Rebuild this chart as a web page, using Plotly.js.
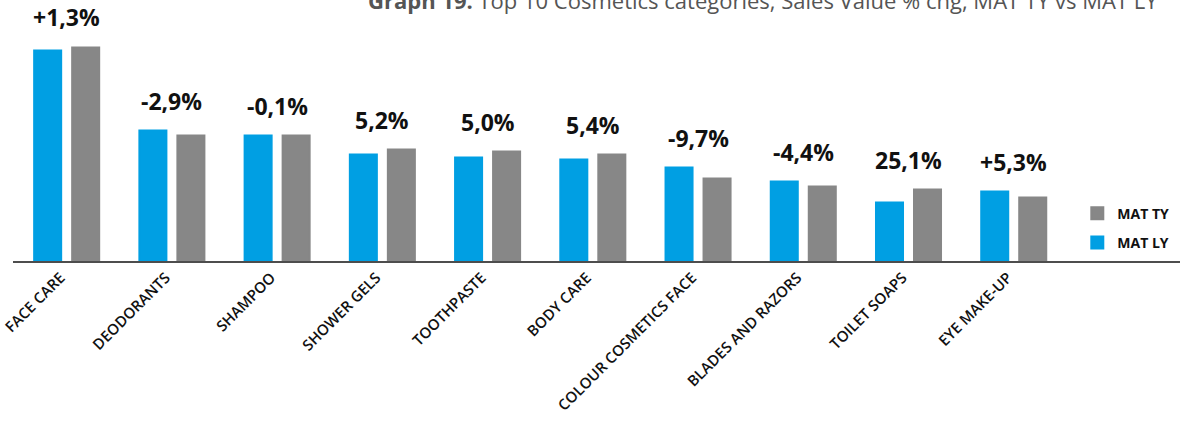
<!DOCTYPE html>
<html>
<head>
<meta charset="utf-8">
<script src="https://cdn.plot.ly/plotly-3.0.1.min.js"></script>
<style>html,body{margin:0;padding:0;background:#fff;}#chart{width:1180px;height:425px;}</style>
</head>
<body>
<div id="chart"></div>
<script>
const categories = ['FACE CARE','DEODORANTS','SHAMPOO','SHOWER GELS','TOOTHPASTE','BODY CARE','COLOUR COSMETICS FACE','BLADES AND RAZORS','TOILET SOAPS','EYE MAKE-UP'];
const matLY = [210.5,130.5,125.5,106.5,103.5,101.5,93.5,79.5,58.5,69.5];
const matTY = [213.5,125.5,125.5,111.5,109.5,106.5,82.5,74.5,71.5,63.5];
const changeLabels = ['+1,3%','-2,9%','-0,1%','5,2%','5,0%','5,4%','-9,7%','-4,4%','25,1%','+5,3%'];
const titleBold = 'Graph 19.';
const titleRest = 'Top 10 Cosmetics categories, Sales Value % chg, MAT TY vs MAT LY';

const traces = [
  {type:'bar', name:'MAT LY', legendgroup:'ly', legendrank:2, x:categories, y:matLY,
   marker:{color:'#009fe3', line:{color:'#009fe3', width:2}}, hoverinfo:'skip'},
  {type:'bar', name:'MAT TY', legendgroup:'ty', legendrank:1, x:categories, y:matTY,
   marker:{color:'#878787', line:{color:'#878787', width:2}}, hoverinfo:'skip'}
];

const annotations = categories.map((c,i)=>({
  x:c, y:Math.max(matLY[i],matTY[i]), xref:'x', yref:'y',
  text:'<b>'+changeLabels[i]+'</b>', showarrow:false,
  xanchor:'center', yanchor:'bottom', yshift:12,
  font:{family:'Open Sans', size:23, color:'#111'}
}));
annotations.push({
  xref:'paper', yref:'paper', x:1, y:1, xanchor:'right', yanchor:'bottom',
  xshift:-20, yshift:-17, showarrow:false,
  text:'<b>'+titleBold+'</b> '+titleRest,
  font:{family:'Open Sans', size:22, color:'#555'}
});

const layout = {
  width:1180, height:425,
  margin:{l:13, r:0, t:0, b:164, pad:0},
  paper_bgcolor:'#fff', plot_bgcolor:'#fff',
  barmode:'group', bargap:0.2776, bargroupgap:0.289,
  showlegend:true,
  legend:{x:0.912, xanchor:'left', y:0.126, yanchor:'middle', traceorder:'grouped',
    font:{family:'Open Sans', size:14, color:'#111', weight:700}, itemwidth:30, tracegroupgap:8},
  xaxis:{type:'category', range:[-0.51,10.58], showline:true, linecolor:'#4d4d4d', linewidth:2,
    ticks:'', tickangle:-45, showgrid:false, zeroline:false, ticklabelshift:-6,
    tickfont:{family:'Open Sans', size:15, color:'#111', weight:600}},
  yaxis:{range:[0,261], visible:false, showgrid:false, zeroline:false},
  annotations:annotations,
  font:{family:'Open Sans'}
};
Plotly.newPlot('chart', traces, layout, {displayModeBar:false, staticPlot:true});
</script>
</body>
</html>
